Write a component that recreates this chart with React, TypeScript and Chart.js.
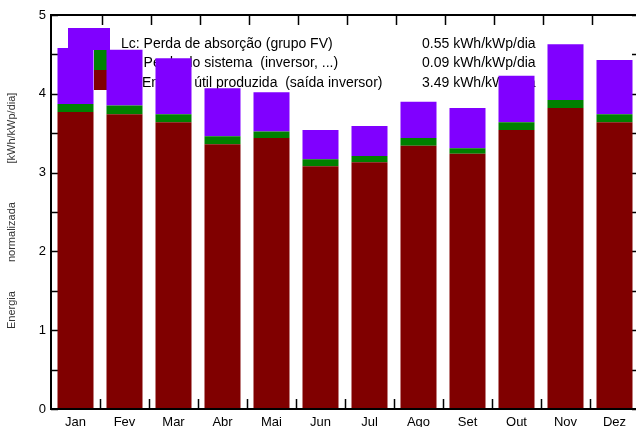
import React, { useEffect, useRef } from "react";
import { Chart, registerables } from "chart.js";

Chart.register(...registerables);

const months = ["Jan", "Fev", "Mar", "Abr", "Mai", "Jun", "Jul", "Ago", "Set", "Out", "Nov", "Dez"];
// Yf: useful energy (dark red)
const yfValues = [3.77, 3.74, 3.64, 3.36, 3.44, 3.08, 3.13, 3.34, 3.24, 3.54, 3.82, 3.64];
// Ls: system loss (green)
const lsValues = [0.10, 0.11, 0.10, 0.10, 0.08, 0.09, 0.08, 0.10, 0.07, 0.10, 0.10, 0.10];
// Lc: collection loss (purple)
const lcValues = [0.71, 0.71, 0.71, 0.61, 0.50, 0.37, 0.38, 0.46, 0.51, 0.59, 0.71, 0.69];

const legendLabels = [
  "Lc: Perda de absorção (grupo FV)",
  "Ls: Perda do sistema  (inversor, ...)",
  "Yf: Energia útil produzida  (saída inversor)",
];
const legendValues = ["0.55 kWh/kWp/dia", "0.09 kWh/kWp/dia", "3.49 kWh/kWp/dia"];
const yTitleParts = ["Energia", "normalizada", "[kWh/kWp/dia]"];

const PURPLE = "#8000FF";
const GREEN = "#008000";
const RED = "#800000";
const FONT = '"Liberation Sans", Arial, sans-serif';

const underPlugin = {
  id: "under",
  beforeDatasetsDraw(chart: any) {
    const { ctx, chartArea } = chart;
    const L = chartArea.left;
    const T = chartArea.top;
    ctx.save();
    // legend swatches
    ctx.fillStyle = PURPLE;
    ctx.fillRect(L + 17, T + 13, 42, 22);
    ctx.fillStyle = GREEN;
    ctx.fillRect(L + 43, T + 35, 13, 20);
    ctx.fillStyle = RED;
    ctx.fillRect(L + 43, T + 55, 13, 20);
    // legend texts
    ctx.fillStyle = "#000";
    ctx.font = "14px " + FONT;
    ctx.textBaseline = "alphabetic";
    ctx.textAlign = "left";
    legendLabels.forEach((t, i) => {
      ctx.fillText(t, L + 70, T + 32.5 + i * 19.5);
    });
    legendValues.forEach((t, i) => {
      ctx.fillText(t, L + 371, T + 32.5 + i * 19.5);
    });
    // ticks
    const x = chart.scales.x;
    const y = chart.scales.y;
    ctx.strokeStyle = "#000";
    ctx.lineWidth = 1.5;
    ctx.beginPath();
    for (let v = 0; v <= 5.001; v += 0.5) {
      const py = Math.round(y.getPixelForValue(v)) + 0.5;
      ctx.moveTo(chartArea.left, py);
      ctx.lineTo(chartArea.left + 7, py);
      ctx.moveTo(chartArea.right, py);
      ctx.lineTo(chartArea.right - 7, py);
    }
    for (let i = 0; i < months.length - 1; i++) {
      const px = Math.round((x.getPixelForValue(i) + x.getPixelForValue(i + 1)) / 2) + 0.5;
      ctx.moveTo(px, chartArea.bottom);
      ctx.lineTo(px, chartArea.bottom - 10);
      ctx.moveTo(px + 2, chartArea.top);
      ctx.lineTo(px + 2, chartArea.top + 10);
    }
    ctx.stroke();
    ctx.restore();
  },
  afterDatasetsDraw(chart: any) {
    const { ctx, chartArea } = chart;
    ctx.save();
    ctx.strokeStyle = "#000";
    ctx.lineWidth = 2;
    ctx.strokeRect(chartArea.left, chartArea.top, chartArea.right - chartArea.left, chartArea.bottom - chartArea.top);
    // y title
    ctx.fillStyle = "#333";
    ctx.font = "11px " + FONT;
    ctx.textAlign = "center";
    ctx.textBaseline = "middle";
    const h = chartArea.bottom - chartArea.top;
    const fr = [0.749, 0.551, 0.287];
    yTitleParts.forEach((t, i) => {
      ctx.save();
      ctx.translate(12, chartArea.top + fr[i] * h);
      ctx.rotate(-Math.PI / 2);
      ctx.fillText(t, 0, 0);
      ctx.restore();
    });
    ctx.restore();
  },
};

export default function App() {
  const ref = useRef<HTMLCanvasElement | null>(null);
  useEffect(() => {
    document.body.style.margin = "0";
    const chart = new Chart(ref.current as HTMLCanvasElement, {
      type: "bar",
      data: {
        labels: months,
        datasets: [
          { label: "Yf", data: yfValues, backgroundColor: RED, borderWidth: 0 },
          { label: "Ls", data: lsValues, backgroundColor: GREEN, borderWidth: 0 },
          { label: "Lc", data: lcValues, backgroundColor: PURPLE, borderWidth: 0 },
        ],
      },
      options: {
        animation: false,
        responsive: true,
        maintainAspectRatio: false,
        layout: { padding: { top: 15, right: 3, left: 0, bottom: 0 } },
        datasets: { bar: { barPercentage: 0.735, categoryPercentage: 1 } },
        plugins: { legend: { display: false }, tooltip: { enabled: false } },
        scales: {
          x: {
            stacked: true,
            grid: { display: false, drawTicks: false },
            border: { display: false },
            ticks: { color: "#000", font: { family: FONT, size: 13 }, padding: 6, maxRotation: 0 },
            afterFit: (s: any) => { s.height = 18; },
          },
          y: {
            stacked: true,
            min: 0,
            max: 5,
            grid: { display: false, drawTicks: false },
            border: { display: false },
            ticks: { stepSize: 1, color: "#000", font: { family: FONT, size: 13 }, padding: 5 },
            afterFit: (s: any) => { s.width = 51; },
          },
        },
      },
      plugins: [underPlugin],
    });
    return () => chart.destroy();
  }, []);
  return (
    <div style={{ position: "absolute", left: 0, top: 0, width: 636, height: 427, overflow: "hidden", background: "#fff" }}>
      <div style={{ position: "relative", width: 642, height: 427 }}>
        <canvas ref={ref} />
      </div>
    </div>
  );
}
